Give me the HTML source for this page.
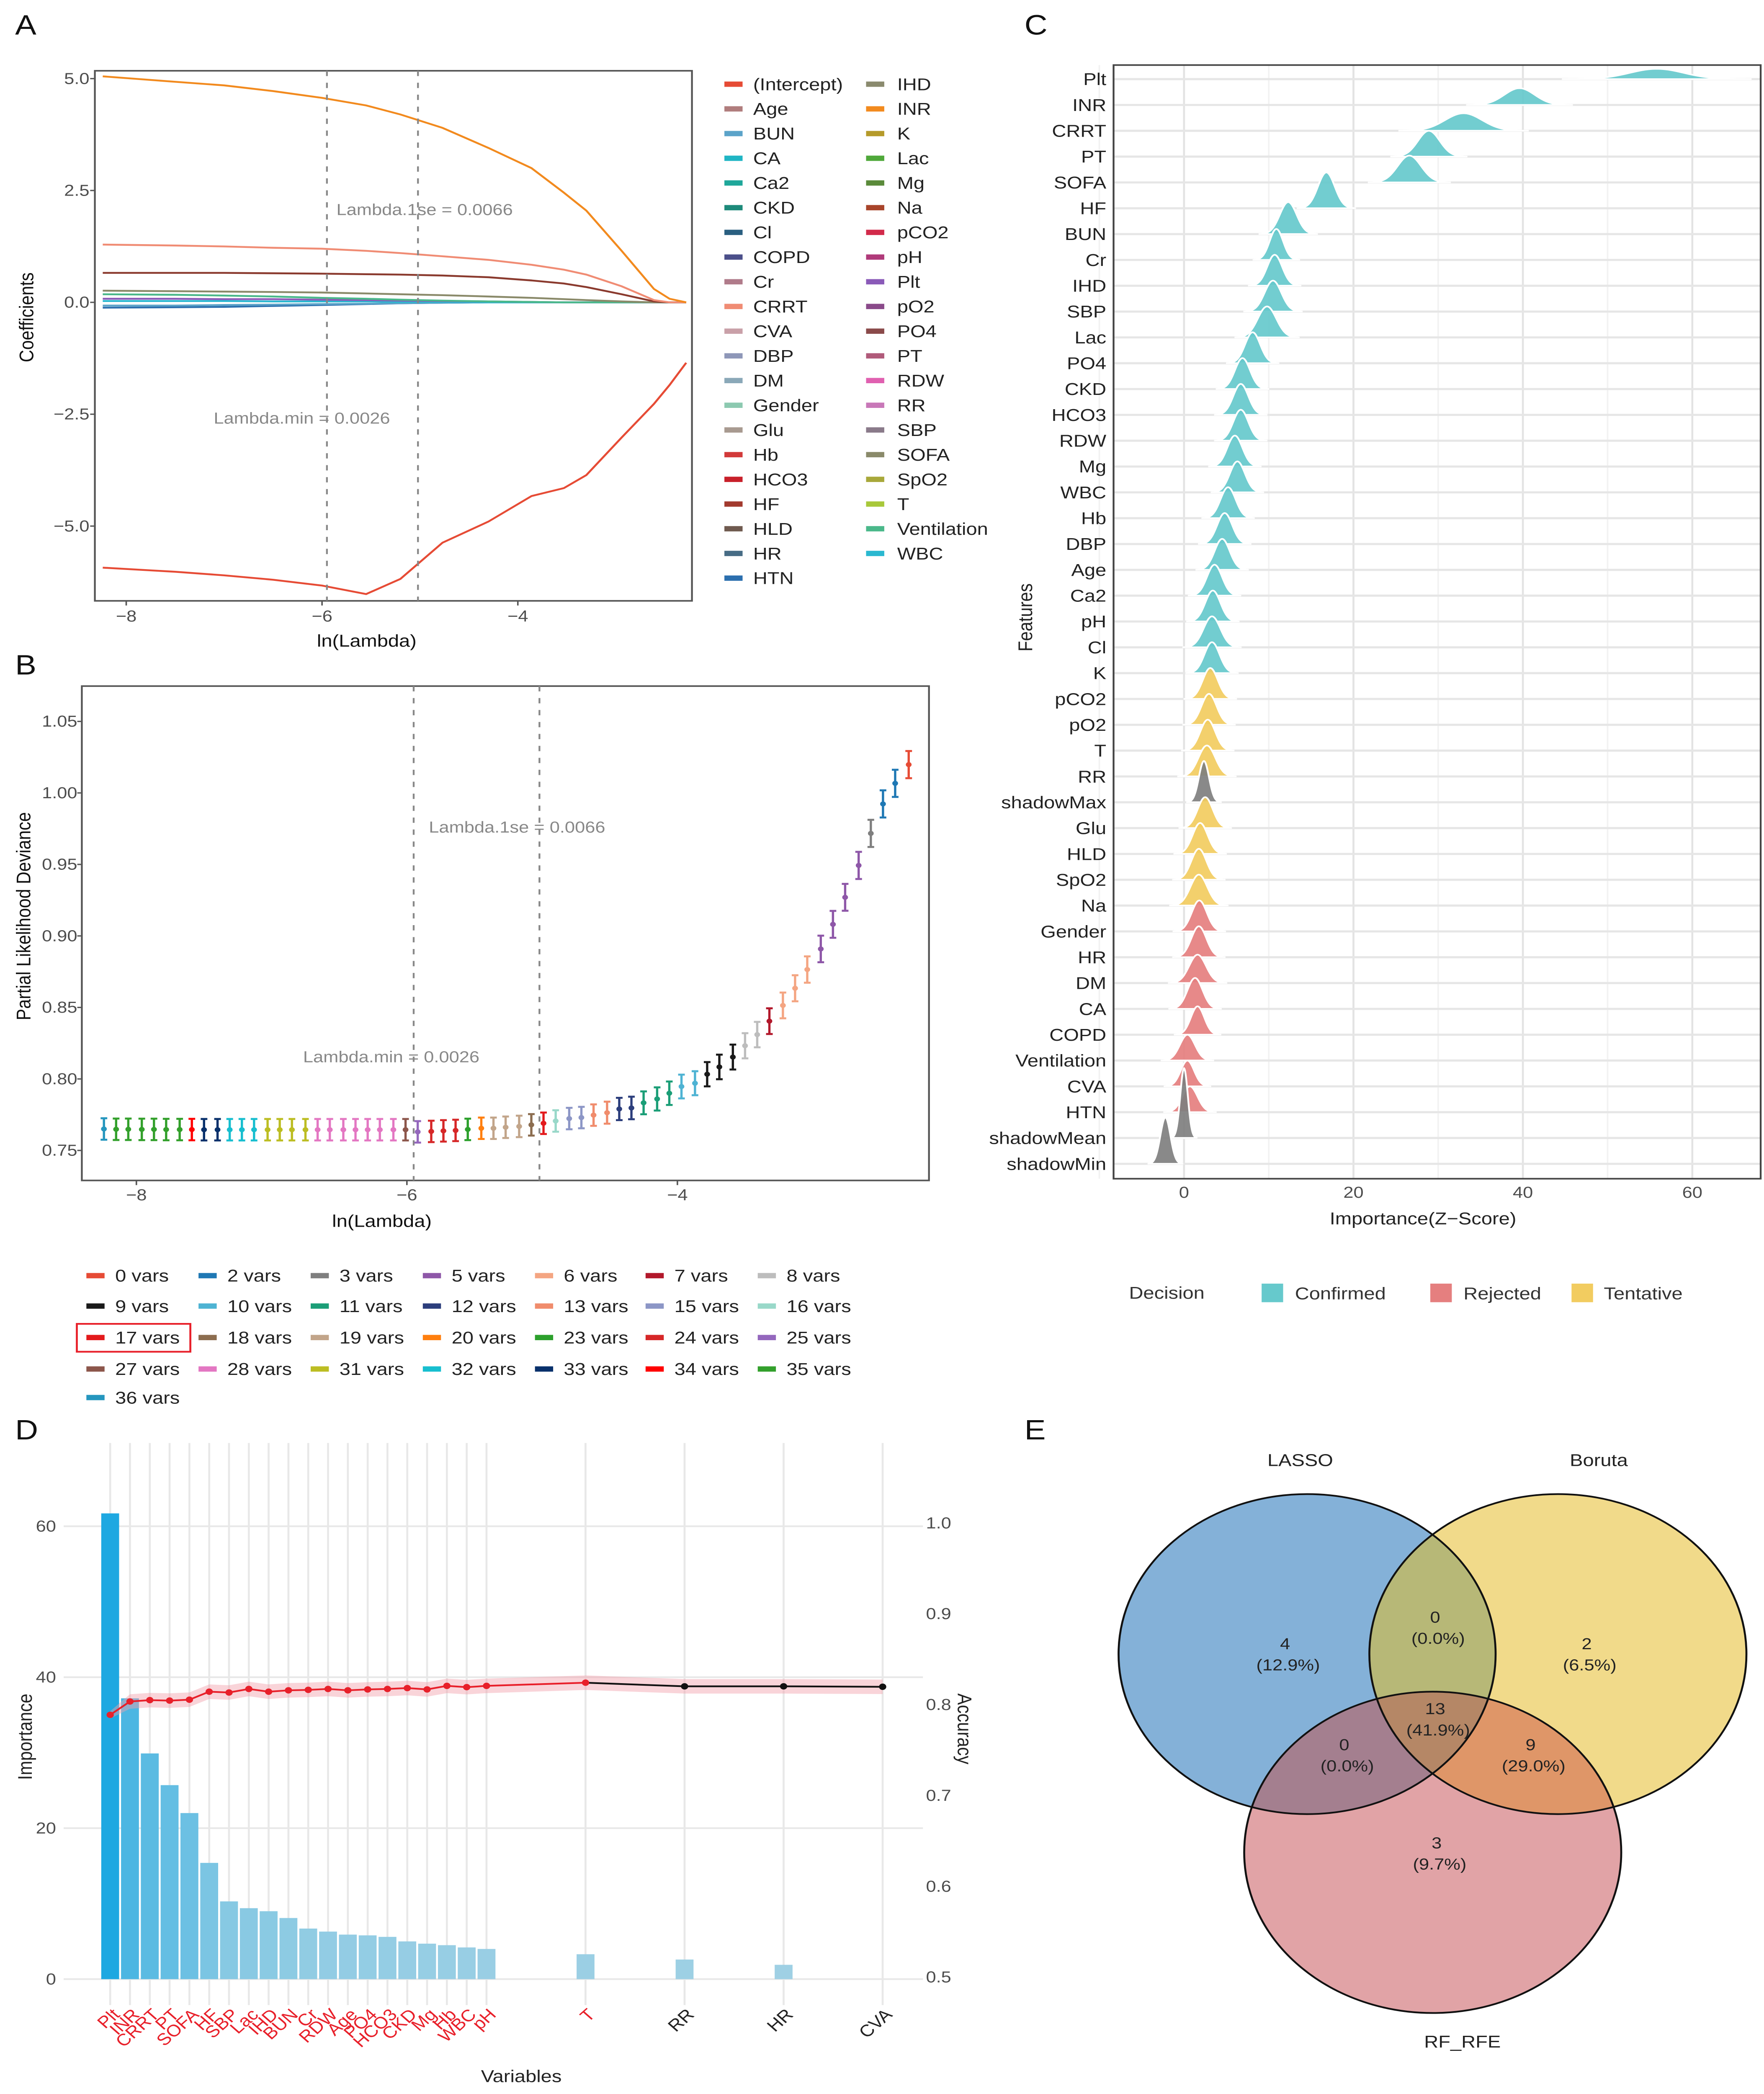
<!DOCTYPE html>
<html><head><meta charset="utf-8"><title>Feature selection figure</title>
<style>html,body{margin:0;padding:0;background:#fff;overflow:hidden;width:100vw;height:100vh}svg#fig{display:block;position:absolute;left:0;top:0;width:100vw;height:100vh}text{font-family:"Liberation Sans",Arial,sans-serif}</style></head>
<body>
<svg id="fig" xmlns="http://www.w3.org/2000/svg" viewBox="0 0 1164 1577" preserveAspectRatio="none">
<rect x="0" y="0" width="1164" height="1577" fill="#fff"/>
<defs>
<clipPath id="clipA"><rect x="62.6" y="53.3" width="394" height="399.2"/></clipPath>
<clipPath id="clipC"><rect x="734.8" y="49" width="427" height="838.7"/></clipPath>
<clipPath id="eL"><ellipse cx="862.5" cy="1245.7" rx="124.4" ry="120.5"/></clipPath>
<clipPath id="eB"><ellipse cx="1028" cy="1245.7" rx="124.4" ry="120.5"/></clipPath>
<clipPath id="eR"><ellipse cx="945.4" cy="1395" rx="124.4" ry="121"/></clipPath>
</defs>
</svg>
<script>
// ---------- Panel A data ----------
const aLogLambda = [-8.24,-7.5,-7,-6.5,-6,-5.55,-5.2,-4.77,-4.3,-3.86,-3.53,-3.3,-2.94,-2.61,-2.45,-2.28];
const aIntercept = [-5.93,-6.02,-6.1,-6.2,-6.33,-6.52,-6.18,-5.37,-4.9,-4.33,-4.15,-3.86,-3.02,-2.27,-1.85,-1.35];
const aINR = [5.05,4.93,4.85,4.72,4.57,4.4,4.2,3.9,3.45,3.0,2.45,2.05,1.15,0.3,0.08,0];
const aCRRT = [1.29,1.27,1.25,1.22,1.2,1.15,1.1,1.03,0.95,0.84,0.73,0.62,0.36,0.05,0,0];
const aHF = [0.66,0.66,0.66,0.65,0.64,0.63,0.62,0.6,0.56,0.49,0.42,0.34,0.18,0.02,0,0];
const aSOFA = [0.26,0.25,0.24,0.23,0.22,0.2,0.18,0.16,0.13,0.1,0.07,0.05,0.02,0,0,0];
const aVent = [0.18,0.17,0.15,0.13,0.1,0.08,0.06,0.04,0.02,0.01,0,0,0,0,0,0];
const aPlt = [0.08,0.08,0.07,0.07,0.06,0.05,0.04,0.03,0.02,0.01,0,0,0,0,0,0];
const aHTN = [-0.12,-0.11,-0.1,-0.08,-0.06,-0.04,-0.02,-0.01,0,0,0,0,0,0,0,0];
const aBUN = [-0.07,-0.07,-0.06,-0.05,-0.04,-0.03,-0.02,-0.01,0,0,0,0,0,0,0,0];
const aWBC = [0.03,0.03,0.03,0.02,0.02,0.02,0.01,0.01,0,0,0,0,0,0,0,0];
const aLegend1 = ["(Intercept)","Age","BUN","CA","Ca2","CKD","Cl","COPD","Cr","CRRT","CVA","DBP","DM","Gender","Glu","Hb","HCO3","HF","HLD","HR","HTN"];
const aLegend1Col = ["#e64b35","#b07d7d","#5ba3c9","#1fb5c4","#1fa79a","#1d8a7a","#2a5f80","#4b4f8a","#b07b8a","#f08c74","#c9a0a8","#8e97b8","#8aa8b8","#8cc9b0","#a89a90","#d23a3a","#c8202a","#a23a2e","#6f5a4f","#476c85","#2b6fae"];
const aLegend2 = ["IHD","INR","K","Lac","Mg","Na","pCO2","pH","Plt","pO2","PO4","PT","RDW","RR","SBP","SOFA","SpO2","T","Ventilation","WBC"];
const aLegend2Col = ["#8a8a6e","#f28a1e","#b59a2a","#4fa83a","#5a8a3a","#a8442a","#d22a4a","#b03a7a","#8a5ab8","#8a4a8a","#8a4a4a","#b05a7a","#e060b0","#c878b8","#8a7a8a","#8a8a6a","#a8a83a","#a8c83a","#4ab88a","#2ab8d0"];
const aXTicks = [-8,-6,-4];
const aYTicks = [5,2.5,0,-2.5,-5];
const aYTickLabels = ["5.0","2.5","0.0","\u22122.5","\u22125.0"];

// ---------- Panel B data ----------
const bLogLambda = [-8.24,-8.15,-8.06,-7.96,-7.87,-7.78,-7.68,-7.59,-7.50,-7.40,-7.31,-7.22,-7.13,-7.03,-6.94,-6.85,-6.75,-6.66,-6.57,-6.47,-6.38,-6.29,-6.20,-6.10,-6.01,-5.92,-5.82,-5.73,-5.64,-5.55,-5.45,-5.36,-5.27,-5.17,-5.08,-4.99,-4.90,-4.80,-4.71,-4.62,-4.52,-4.43,-4.34,-4.25,-4.15,-4.06,-3.97,-3.87,-3.78,-3.69,-3.59,-3.50,-3.41,-3.32,-3.22,-3.13,-3.04,-2.94,-2.85,-2.76,-2.66,-2.57,-2.48,-2.39,-2.29];
const bDeviance = [0.7650,0.7648,0.7648,0.7647,0.7647,0.7646,0.7646,0.7646,0.7645,0.7645,0.7645,0.7645,0.7645,0.7645,0.7645,0.7645,0.7645,0.7645,0.7645,0.7645,0.7645,0.7645,0.7645,0.7645,0.7645,0.7630,0.7633,0.7637,0.7640,0.7647,0.7655,0.7655,0.7662,0.7668,0.7679,0.7690,0.7706,0.7723,0.7730,0.7747,0.7764,0.7790,0.7797,0.7833,0.7860,0.7900,0.7947,0.7970,0.8033,0.8084,0.8153,0.8232,0.8310,0.8404,0.8514,0.8634,0.8765,0.8909,0.9081,0.9270,0.9493,0.9717,0.9923,1.0067,1.0198];
const bSE = [0.0075,0.0075,0.0075,0.0075,0.0075,0.0075,0.0075,0.0075,0.0075,0.0075,0.0075,0.0075,0.0075,0.0075,0.0075,0.0075,0.0075,0.0075,0.0075,0.0075,0.0075,0.0075,0.0075,0.0075,0.0075,0.0075,0.0075,0.0075,0.0075,0.0075,0.0075,0.0075,0.0075,0.0075,0.0075,0.0075,0.0075,0.0075,0.0075,0.0075,0.0077,0.0078,0.0079,0.008,0.0081,0.0082,0.0083,0.0084,0.0085,0.0086,0.0087,0.0088,0.0089,0.009,0.009,0.0091,0.0092,0.0093,0.0094,0.0094,0.0095,0.0095,0.0095,0.0095,0.0095];
const bVars = [36,35,35,35,35,35,35,34,33,33,32,32,32,31,31,31,31,28,28,28,28,28,28,28,27,25,24,24,24,23,20,19,19,19,18,17,16,15,15,13,13,12,12,11,11,11,10,10,9,9,9,8,8,7,6,6,6,5,5,5,5,3,2,2,0];
const bLegendVars = [0,2,3,5,6,7,8,9,10,11,12,13,15,16,17,18,19,20,23,24,25,27,28,31,32,33,34,35,36];
const bLegendCols = ["#e64b35","#1f78b4","#7f7f7f","#8e57a8","#f4a582","#b2182b","#bdbdbd","#1a1a1a","#4eb3d3","#1b9e77","#2c3e7c","#f08c6c","#8c96c6","#99d8c9","#e31a1c","#8c6d4f","#c2a58a","#ff7f0e","#2ca02c","#d62728","#9467bd","#8c564b","#e377c2","#bcbd22","#17becf","#08306b","#ff0000","#33a02c","#2596be"];
const bXTicks = [-8,-6,-4];
const bYTicks = [0.75,0.80,0.85,0.90,0.95,1.00,1.05];
const bYTickLabels = ["0.75","0.80","0.85","0.90","0.95","1.00","1.05"];

// ---------- Panel C data ----------
const cFeatures = ["Plt","INR","CRRT","PT","SOFA","HF","BUN","Cr","IHD","SBP","Lac","PO4","CKD","HCO3","RDW","Mg","WBC","Hb","DBP","Age","Ca2","pH","Cl","K","pCO2","pO2","T","RR","shadowMax","Glu","HLD","SpO2","Na","Gender","HR","DM","CA","COPD","Ventilation","CVA","HTN","shadowMean","shadowMin"];
const cMean = [55.8,39.6,33,28.9,26.6,16.8,12.3,10.9,10.7,10.5,9.8,8.1,6.9,6.7,6.7,6.0,6.3,5.2,4.8,4.5,3.6,3.4,3.3,3.3,3.1,2.95,2.8,2.7,2.35,2.5,1.9,1.75,1.75,1.8,1.75,1.6,1.3,1.6,0.4,0.4,0.7,0.0,-2.2];
const cSD = [3.2,1.8,2.2,1.3,1.4,1.0,1.0,0.8,0.9,1.0,1.1,0.9,0.9,0.9,0.9,0.9,0.9,0.9,0.9,0.9,0.9,0.9,1.0,0.9,0.9,0.9,0.9,1.0,0.6,0.9,0.9,0.9,1.0,0.9,0.9,1.0,0.9,0.8,0.9,0.8,0.9,0.45,0.6];
const cPeak = [0.4,0.65,0.68,1.0,1.04,1.39,1.24,1.2,1.2,1.2,1.2,1.2,1.2,1.2,1.2,1.2,1.2,1.2,1.2,1.2,1.2,1.2,1.2,1.2,1.2,1.2,1.2,1.2,1.6,1.2,1.2,1.2,1.2,1.2,1.2,1.1,1.2,1.1,1.0,1.0,1.0,2.7,1.8];
const cDecision = ["C","C","C","C","C","C","C","C","C","C","C","C","C","C","C","C","C","C","C","C","C","C","C","C","T","T","T","T","S","T","T","T","T","R","R","R","R","R","R","R","R","S","S"];
const cXTicks = [0,20,40,60];
const cXMinor = [-10,10,30,50];

// ---------- Panel D data ----------
const dVars = ["Plt","INR","CRRT","PT","SOFA","HF","SBP","Lac","IHD","BUN","Cr","RDW","Age","PO4","HCO3","CKD","Mg","Hb","WBC","pH","T","RR","HR","CVA"];
const dN = [1,2,3,4,5,6,7,8,9,10,11,12,13,14,15,16,17,18,19,20,25,30,35,40];
const dImportance = [61.7,37.2,29.9,25.7,22.0,15.4,10.3,9.4,9.0,8.1,6.7,6.3,5.9,5.8,5.6,5.0,4.7,4.5,4.2,4.0,3.3,2.6,1.9,0];
const dAccuracy = [0.7888,0.8035,0.805,0.8045,0.8055,0.8143,0.8134,0.8173,0.8143,0.8158,0.8163,0.8173,0.8158,0.8168,0.8173,0.8183,0.8168,0.8207,0.8193,0.8207,0.8242,0.8202,0.8202,0.8197];
const dAccSD = [0.004,0.008,0.008,0.008,0.008,0.008,0.008,0.008,0.008,0.008,0.008,0.008,0.008,0.008,0.008,0.008,0.008,0.008,0.008,0.008,0.008,0.008,0.008,0.008];
const dSelected = [1,1,1,1,1,1,1,1,1,1,1,1,1,1,1,1,1,1,1,1,1,0,0,0];
const dLeftTicks = [0,20,40,60];
const dRightTicks = [0.5,0.6,0.7,0.8,0.9,1.0];
const dRightTickLabels = ["0.5","0.6","0.7","0.8","0.9","1.0"];

// ---------- Panel E data ----------
const eSets = ["LASSO","Boruta","RF_RFE"];
const eCounts = [4,2,3,0,0,9,13];
const ePercents = ["(12.9%)","(6.5%)","(9.7%)","(0.0%)","(0.0%)","(29.0%)","(41.9%)"];

const NS = "http://www.w3.org/2000/svg";
const svg = document.getElementById("fig");
function mk(tag, attrs, parent){
  const e = document.createElementNS(NS, tag);
  for (const k in attrs) e.setAttribute(k, attrs[k]);
  (parent || svg).appendChild(e);
  return e;
}
function tx(str, attrs, parent){
  const e = mk("text", attrs, parent);
  e.textContent = str;
  return e;
}
function grp(name){
  const g = mk("g", {});
  
  
  return g;
}
const TICK = "#4d4d4d";

// ================= Panel A =================
(function(){
  const g = grp("panel-a");
  const xA = v => 83.3 + (v + 8) * 64.6;
  const yA = v => 227.7 - v * 33.7;
  let t = tx("A", {x:10, y:26, "font-size":21, fill:"#111"}, g);
  
  
  let box = mk("rect", {x:62.6, y:53.3, width:394, height:399.2, fill:"#fff", stroke:"#555", "stroke-width":1.2}, g);
  
  
  const lines = mk("g", {"clip-path":"url(#clipA)"}, g);
  
  
  const series = [[aHTN,"#2b6fae","htn"],[aBUN,"#5ba3c9","bun"],[aWBC,"#2ab8d0","wbc"],[aPlt,"#8a5ab8","plt"],[aVent,"#4ab88a","ventilation"],[aSOFA,"#8a8a6a","sofa"],[aHF,"#8a3a2e","hf"],[aCRRT,"#f08c74","crrt"],[aINR,"#f28a1e","inr"],[aIntercept,"#e64b35","intercept"]];
  series.forEach(s => {
    const pts = aLogLambda.map((v,i) => xA(v).toFixed(1) + "," + yA(s[0][i]).toFixed(1)).join(" ");
    const p = mk("polyline", {points:pts, fill:"none", stroke:s[1], "stroke-width":1.4}, lines);
    
    
  });
  [-5.95,-5.02].forEach((v,i) => {
    const l = mk("line", {x1:xA(v), x2:xA(v), y1:53.3, y2:452.5, stroke:"#888", "stroke-width":1.2, "stroke-dasharray":"4,5"}, g);
    
    
  });
  t = tx("Lambda.1se = 0.0066", {x:222, y:162, "font-size":12, fill:"#888"}, g);
  
  
  t = tx("Lambda.min = 0.0026", {x:141, y:319, "font-size":12, fill:"#888"}, g);
  
  
  aYTicks.forEach((v,i) => {
    const l = mk("line", {x1:59.5, x2:62.6, y1:yA(v), y2:yA(v), stroke:"#555"}, g);
    
    
    const tt = tx(aYTickLabels[i], {x:59, y:yA(v)+4, "font-size":12, fill:TICK, "text-anchor":"end"}, g);
    
    
  });
  aXTicks.forEach(v => {
    const l = mk("line", {x1:xA(v), x2:xA(v), y1:452.5, y2:456, stroke:"#555"}, g);
    
    
    const tt = tx("\u2212" + Math.abs(v), {x:xA(v), y:468, "font-size":12, fill:TICK, "text-anchor":"middle"}, g);
    
    
  });
  t = tx("ln(Lambda)", {x:242, y:487, "font-size":13, fill:"#111", "text-anchor":"middle"}, g);
  
  
  t = tx("Coefficients", {x:0, y:0, "font-size":13, fill:"#111", "text-anchor":"middle", transform:"translate(22,239) rotate(-90)"}, g);
  
  
  const lg = mk("g", {}, g);
  
  
  aLegend1.forEach((n,i) => {
    const y = 63.4 + i * 18.6;
    const r = mk("rect", {x:478, y:y-2, width:12, height:4, fill:aLegend1Col[i]}, lg);
    
    
    const tt = tx(n, {x:497, y:y+4.5, "font-size":13, fill:"#222"}, lg);
    
    
  });
  aLegend2.forEach((n,i) => {
    const y = 63.4 + i * 18.6;
    const r = mk("rect", {x:571.5, y:y-2, width:12, height:4, fill:aLegend2Col[i]}, lg);
    
    
    const tt = tx(n, {x:592, y:y+4.5, "font-size":13, fill:"#222"}, lg);
    
    
  });
})();

// ================= Panel B =================
(function(){
  const g = grp("panel-b");
  const xB = v => 90 + (v + 8) * 89.25;
  const yB = v => 866.4 - (v - 0.75) * 1077;
  const colOf = n => bLegendCols[bLegendVars.indexOf(n)];
  let t = tx("B", {x:10, y:508, "font-size":21, fill:"#111"}, g);
  
  
  let box = mk("rect", {x:54, y:516.7, width:559, height:372.3, fill:"#fff", stroke:"#555", "stroke-width":1.2}, g);
  
  
  [-5.95,-5.02].forEach((v,i) => {
    const l = mk("line", {x1:xB(v), x2:xB(v), y1:516.7, y2:889, stroke:"#888", "stroke-width":1.2, "stroke-dasharray":"4,5"}, g);
    
    
  });
  t = tx("Lambda.1se = 0.0066", {x:283, y:627, "font-size":12, fill:"#888"}, g);
  
  
  t = tx("Lambda.min = 0.0026", {x:200, y:800, "font-size":12, fill:"#888"}, g);
  
  
  const pts = mk("g", {}, g);
  
  
  bLogLambda.forEach((v,i) => {
    const c = colOf(bVars[i]);
    const x = xB(v), y0 = yB(bDeviance[i] - bSE[i]), y1 = yB(bDeviance[i] + bSE[i]);
    const pth = mk("path", {d:`M${x},${y0}V${y1}M${x-2.2},${y0}H${x+2.2}M${x-2.2},${y1}H${x+2.2}`, stroke:c, "stroke-width":1.5, fill:"none"}, pts);
    
    
    const d = mk("circle", {cx:x, cy:yB(bDeviance[i]), r:1.9, fill:c}, pts);
    
    
  });
  bYTicks.forEach((v,i) => {
    const l = mk("line", {x1:51, x2:54, y1:yB(v), y2:yB(v), stroke:"#555"}, g);
    
    
    const tt = tx(bYTickLabels[i], {x:51, y:yB(v)+4, "font-size":12, fill:TICK, "text-anchor":"end"}, g);
    
    
  });
  bXTicks.forEach(v => {
    const l = mk("line", {x1:xB(v), x2:xB(v), y1:889, y2:892.5, stroke:"#555"}, g);
    
    
    const tt = tx("\u2212" + Math.abs(v), {x:xB(v), y:904, "font-size":12, fill:TICK, "text-anchor":"middle"}, g);
    
    
  });
  t = tx("ln(Lambda)", {x:252, y:924, "font-size":13, fill:"#111", "text-anchor":"middle"}, g);
  
  
  t = tx("Partial Likelihood Deviance", {x:0, y:0, "font-size":13, fill:"#111", "text-anchor":"middle", transform:"translate(20,690) rotate(-90)"}, g);
  
  
  const lg = mk("g", {}, g);
  
  
  const colX = [57,131,205,279,353,426,500], rowY = [960.7,983.6,1007.3,1031,1052.5];
  bLegendVars.forEach((n,i) => {
    const cx = colX[i % 7], cy = rowY[Math.floor(i / 7)];
    const r = mk("rect", {x:cx, y:cy-2, width:12, height:4, fill:bLegendCols[i]}, lg);
    
    
    const tt = tx(n + " vars", {x:cx+19, y:cy+4.5, "font-size":13, fill:"#222"}, lg);
    
    
  });
  const hb = mk("rect", {x:50.7, y:997, width:74.9, height:21, fill:"none", stroke:"#e8202a", "stroke-width":1.3}, lg);
  
  
})();

// ================= Panel C =================
(function(){
  const g = grp("panel-c");
  const xC = z => 781.3 + z * 5.59;
  const rowY = i => 59.6 + i * 19.45;
  const fills = {C:"#66c9cc", R:"#e57f7f", T:"#f2cc60", S:"#7f7f7f"};
  let t = tx("C", {x:676, y:26, "font-size":21, fill:"#111"}, g);
  
  
  let box = mk("rect", {x:734.8, y:49, width:427, height:838.7, fill:"#fff"}, g);
  
  
  cXMinor.forEach(v => {
    const l = mk("line", {x1:xC(v), x2:xC(v), y1:49, y2:887.7, stroke:"#f2f2f2", "stroke-width":1}, g);
    
    
  });
  cXTicks.forEach(v => {
    const l = mk("line", {x1:xC(v), x2:xC(v), y1:49, y2:887.7, stroke:"#e3e3e3", "stroke-width":1.3}, g);
    
    
  });
  cFeatures.forEach((f,i) => {
    const l = mk("line", {x1:734.8, x2:1161.8, y1:rowY(i), y2:rowY(i), stroke:"#e6e6e6", "stroke-width":1.6}, g);
    
    
  });
  const rg = mk("g", {"clip-path":"url(#clipC)"}, g);
  
  
  cFeatures.forEach((f,i) => {
    const m = cMean[i], s = cSD[i], h = cPeak[i] * 19.45, b = rowY(i);
    let d = "";
    for (let k = 0; k <= 48; k++) {
      const z = m - 3.5 * s + k * (7 * s / 48);
      const y = b - h * Math.exp(-0.5 * ((z - m) / s) ** 2);
      d += (k ? "L" : "M") + xC(z).toFixed(2) + "," + y.toFixed(2);
    }
    d += "Z";
    const p = mk("path", {d:d, fill:fills[cDecision[i]], "fill-opacity":0.92, stroke:"#fff", "stroke-width":1.2}, rg);
    
    
  });
  const frame = mk("rect", {x:734.8, y:49, width:427, height:838.7, fill:"none", stroke:"#444", "stroke-width":1.2}, g);
  
  
  cFeatures.forEach((f,i) => {
    const tt = tx(f, {x:730, y:rowY(i)+4.5, "font-size":13, fill:"#222", "text-anchor":"end"}, g);
    
    
  });
  cXTicks.forEach(v => {
    const tt = tx(String(v), {x:xC(v), y:902, "font-size":12, fill:TICK, "text-anchor":"middle"}, g);
    
    
  });
  t = tx("Importance(Z\u2212Score)", {x:939, y:922, "font-size":13, fill:"#222", "text-anchor":"middle"}, g);
  
  
  t = tx("Features", {x:0, y:0, "font-size":13, fill:"#222", "text-anchor":"middle", transform:"translate(681,465) rotate(-90)"}, g);
  
  
  const lg = mk("g", {}, g);
  
  
  t = tx("Decision", {x:745, y:978, "font-size":13, fill:"#333"}, lg);
  
  
  [["Confirmed","C",832.5,854.5],["Rejected","R",943.8,965.7],["Tentative","T",1037,1058.3]].forEach(e => {
    const r = mk("rect", {x:e[2], y:966.7, width:14.2, height:14, fill:fills[e[1]]}, lg);
    
    
    const tt = tx(e[0], {x:e[3], y:978.5, "font-size":13, fill:"#333"}, lg);
    
    
  });
})();

// ================= Panel D =================
(function(){
  const g = grp("panel-d");
  const xD = n => 72.7 + (n - 1) * 13.07;
  const yImp = v => 1490.5 - v * 5.685;
  const yAcc = v => 1489 - (v - 0.5) * 684;
  let t = tx("D", {x:10, y:1084, "font-size":21, fill:"#111"}, g);
  
  
  dLeftTicks.forEach(v => {
    const l = mk("line", {x1:42, x2:609, y1:yImp(v), y2:yImp(v), stroke:"#e8e8e8", "stroke-width":1.3}, g);
    
    
  });
  dN.forEach(n => {
    const l = mk("line", {x1:xD(n), x2:xD(n), y1:1086.7, y2:1510, stroke:"#e8e8e8", "stroke-width":1.3}, g);
    
    
  });
  const bars = mk("g", {}, g);
  
  
  const maxI = Math.max(...dImportance);
  dN.forEach((n,i) => {
    if (dImportance[i] <= 0) return;
    const tt2 = Math.pow(dImportance[i] / maxI, 0.8);
    const c = `rgb(${Math.round(168 + (30-168)*tt2)},${Math.round(211 + (168-211)*tt2)},${Math.round(228 + (225-228)*tt2)})`;
    const r = mk("rect", {x:xD(n)-5.9, y:yImp(dImportance[i]), width:11.8, height:yImp(0)-yImp(dImportance[i]), fill:c}, bars);
    
    
  });
  let up = "", lo = "";
  dN.forEach((n,i) => { up += (i ? "L" : "M") + xD(n) + "," + yAcc(dAccuracy[i] + dAccSD[i]); });
  for (let i = dN.length - 1; i >= 0; i--) lo += "L" + xD(dN[i]) + "," + yAcc(dAccuracy[i] - dAccSD[i]);
  const rib = mk("path", {d:up + lo + "Z", fill:"#f2a0aa", "fill-opacity":0.45}, g);
  
  
  const lastSel = dSelected.lastIndexOf(1);
  const redPts = dN.slice(0, lastSel+1).map((n,i) => xD(n) + "," + yAcc(dAccuracy[i])).join(" ");
  const blkPts = dN.slice(lastSel).map((n,j) => xD(n) + "," + yAcc(dAccuracy[lastSel+j])).join(" ");
  let pl = mk("polyline", {points:blkPts, fill:"none", stroke:"#111", "stroke-width":1.3}, g);
  
  
  pl = mk("polyline", {points:redPts, fill:"none", stroke:"#e8202a", "stroke-width":1.3}, g);
  
  
  dN.forEach((n,i) => {
    const c = mk("circle", {cx:xD(n), cy:yAcc(dAccuracy[i]), r:2.4, fill:dSelected[i] ? "#e8202a" : "#111"}, g);
    
    
  });
  dLeftTicks.forEach(v => {
    const tt = tx(String(v), {x:37, y:yImp(v)+4, "font-size":12, fill:TICK, "text-anchor":"end"}, g);
    
    
  });
  dRightTicks.forEach((v,i) => {
    const tt = tx(dRightTickLabels[i], {x:611, y:yAcc(v)+4, "font-size":12, fill:TICK}, g);
    
    
  });
  dN.forEach((n,i) => {
    const tt = tx(dVars[i], {x:0, y:0, "font-size":12.5, fill:dSelected[i] ? "#e8202a" : "#222", "text-anchor":"end", transform:`translate(${xD(n)+7},${1518}) rotate(-45)`}, g);
    
    
  });
  t = tx("Variables", {x:344, y:1568, "font-size":13, fill:"#222", "text-anchor":"middle"}, g);
  
  
  t = tx("Importance", {x:0, y:0, "font-size":13, fill:"#222", "text-anchor":"middle", transform:"translate(21,1308) rotate(-90)"}, g);
  
  
  t = tx("Accuracy", {x:0, y:0, "font-size":13, fill:"#222", "text-anchor":"middle", transform:"translate(632,1302) rotate(90)"}, g);
  
  
})();

// ================= Panel E =================
(function(){
  const g = grp("panel-e");
  let t = tx("E", {x:676, y:1084, "font-size":21, fill:"#111"}, g);
  
  
  const L = {cx:862.5, cy:1245.7, rx:124.4, ry:120.5}, B = {cx:1028, cy:1245.7, rx:124.4, ry:120.5}, R = {cx:945.4, cy:1395, rx:124.4, ry:121};
  const ell = (o, fill, name, parent, clip) => {
    const a = {cx:o.cx, cy:o.cy, rx:o.rx, ry:o.ry, fill:fill};
    if (clip) a["clip-path"] = clip;
    const e = mk("ellipse", a, parent || g);
    
    
    return e;
  };
  ell(L, "#84b1d8", "lasso-set");
  ell(B, "#f1da8a", "boruta-set");
  ell(R, "#e1a3a6", "rf-rfe-set");
  ell(B, "#b7b877", "lasso-boruta-overlap", g, "url(#eL)");
  ell(R, "#a47f8f", "lasso-rfe-overlap", g, "url(#eL)");
  ell(R, "#df9668", "boruta-rfe-overlap", g, "url(#eB)");
  const inner = mk("g", {"clip-path":"url(#eL)"}, g);
  
  
  ell(R, "#b58766", "all-three-overlap", inner, "url(#eB)");
  [L,B,R].forEach((o,i) => {
    const e = mk("ellipse", {cx:o.cx, cy:o.cy, rx:o.rx, ry:o.ry, fill:"none", stroke:"#111", "stroke-width":1.3}, g);
    
    
  });
  [[eSets[0],858,1104],[eSets[1],1055,1104],[eSets[2],965,1542]].forEach(s => {
    const tt = tx(s[0], {x:s[1], y:s[2], "font-size":13, fill:"#222", "text-anchor":"middle"}, g);
    
    
  });
  const pos = [[848,1238],[1047,1238],[948,1388],[947,1218],[887,1314],[1010,1314],[947,1287]];
  eCounts.forEach((c,i) => {
    const a = tx(String(c), {x:pos[i][0], y:pos[i][1]+4, "font-size":12, fill:"#222", "text-anchor":"middle"}, g);
    
    
    const b = tx(ePercents[i], {x:pos[i][0]+2, y:pos[i][1]+20, "font-size":12, fill:"#222", "text-anchor":"middle"}, g);
    
    
  });
})();
</script>
</body></html>
